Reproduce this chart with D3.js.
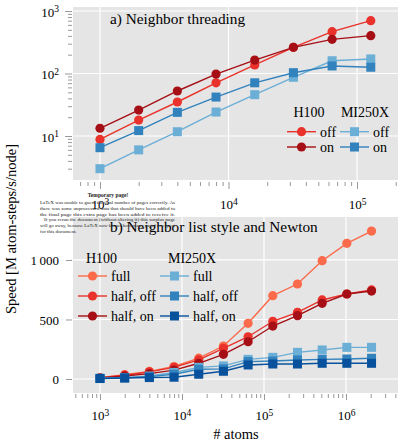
<!DOCTYPE html>
<html>
<head>
<meta charset="utf-8">
<script src="https://cdn.jsdelivr.net/npm/d3@7"></script>
<style>
  body { margin: 0; background: #fff; }
  svg { display: block; font-family: "Liberation Serif", "DejaVu Serif", serif; }
</style>
</head>
<body>
<svg id="chart" width="399" height="444"></svg>
<script>
// ---- data: a) Neighbor threading
const atomsA = [1000, 2000, 4000, 8000, 16000, 32000, 64000, 128000];
const h100OffA = [8.8, 18, 35, 71, 137, 262, 467, 700];
const h100OnA = [13.3, 26, 52.5, 98, 164, 262, 352, 403];
const mi250OffA = [3.0, 6.0, 11.7, 24.2, 45.8, 87, 160, 171];
const mi250OnA = [6.5, 12.2, 23.9, 42, 71, 103, 132, 126];

// ---- data: b) Neighbor list style and Newton
const atomsB = [1000, 2000, 4000, 8000, 16000, 32000, 64000, 128000, 256000, 512000, 1024000, 2048000];
const h100Full = [11, 36, 64, 105, 175, 277, 468, 700, 798, 994, 1140, 1243];
const h100HalfOff = [10, 32, 60, 98, 160, 258, 355, 485, 560, 664, 714, 748];
const h100HalfOn = [8, 25, 45, 75, 132, 207, 313, 445, 532, 636, 714, 739];
const miFull = [6, 12, 25, 55, 98, 110, 165, 182, 224, 244, 266, 266];
const miHalfOff = [5, 10, 20, 40, 82, 85, 146, 151, 160, 165, 168, 174];
const miHalfOn = [4, 8, 12, 15, 40, 65, 118, 126, 126, 132, 132, 132];

const yTicksB = [0, 500, 1000];
const yTickLabelsB = ['0', '500', '1\u2009000'];

const latexNote = [
    'LaTeX was unable to guess the total number of pages correctly. As',
    'there was some unprocessed data that should have been added to',
    'the final page this extra page has been added to receive it.',
    'If you rerun the document (without altering it) this surplus page',
    'will go away, because LaTeX now knows how many pages to expect',
    'for this document.'
];

const svg = d3.select('#chart');
const left = 73, right = 398;
const bg = '#e5e5e5', tickCol = '#999';

function powLabel(sel, supSize) {
    sel.each(function (d) {
        const t = d3.select(this);
        t.text(null);
        t.append('tspan').text('10');
        t.append('tspan').attr('dy', '-0.45em').attr('font-size', supSize)
            .text(Math.round(Math.log10(d)));
    });
}

function logMinor(lo, hi) {
    const out = [];
    for (let e = lo; e <= hi; e++) for (let m = 2; m <= 9; m++) out.push(m * Math.pow(10, e));
    return out;
}

function styleAxis(g) {
    g.select('.domain').remove();
    g.selectAll('.tick line').attr('stroke', tickCol);
    g.selectAll('.tick text').attr('fill', '#000').attr('font-size', 13)
        .attr('font-family', '"Liberation Serif", serif');
}

function drawSeries(g, x, y, xs, ys, color, shape) {
    const pts = xs.map((v, i) => [v, ys[i]]);
    g.append('path')
        .attr('d', d3.line().x(d => x(d[0])).y(d => y(d[1]))(pts))
        .attr('fill', 'none').attr('stroke', color).attr('stroke-width', 1.4);
    if (shape === 'circle') {
        g.selectAll(null).data(pts).enter().append('circle')
            .attr('cx', d => x(d[0])).attr('cy', d => y(d[1])).attr('r', 4.6)
            .attr('fill', color);
    } else {
        g.selectAll(null).data(pts).enter().append('rect')
            .attr('x', d => x(d[0]) - 4.5).attr('y', d => y(d[1]) - 4.5)
            .attr('width', 9).attr('height', 9).attr('fill', color);
    }
}

function legendItem(g, x0, cy, color, shape, label) {
    g.append('line').attr('x1', x0).attr('x2', x0 + 29).attr('y1', cy).attr('y2', cy)
        .attr('stroke', color).attr('stroke-width', 1.4);
    if (shape === 'circle') {
        g.append('circle').attr('cx', x0 + 14.5).attr('cy', cy).attr('r', 4.6).attr('fill', color);
    } else {
        g.append('rect').attr('x', x0 + 10).attr('y', cy - 4.5).attr('width', 9).attr('height', 9)
            .attr('fill', color);
    }
    g.append('text').attr('x', x0 + 33).attr('y', cy + 4.8).attr('font-size', 14).text(label);
}

// //////////////////////////////////////////////////////////////////////////
// Panel a
const topA = 7, botA = 180;
const xA = d3.scaleLog().domain([Math.pow(10, 2.79), Math.pow(10, 5.319)]).range([left, right]);
const yA = d3.scaleLog().domain([Math.pow(10, 0.296), Math.pow(10, 3.064)]).range([botA, topA]);

const gA = svg.append('g');
gA.append('rect').attr('x', left).attr('y', topA).attr('width', right - left).attr('height', botA - topA)
    .attr('fill', bg);
[1e3, 1e4, 1e5].forEach(v => gA.append('line').attr('x1', xA(v)).attr('x2', xA(v))
    .attr('y1', topA).attr('y2', botA).attr('stroke', '#fff').attr('stroke-width', 1.2));
[10, 100, 1000].forEach(v => gA.append('line').attr('y1', yA(v)).attr('y2', yA(v))
    .attr('x1', left).attr('x2', right).attr('stroke', '#fff').attr('stroke-width', 1.2));

// axes a
gA.append('g').attr('transform', 'translate(72,0)')
    .call(d3.axisLeft(yA).tickValues(logMinor(0, 2).filter(v => v > 2 && v < 1100)).tickSize(4).tickFormat(''))
    .call(styleAxis);
gA.append('g').attr('transform', 'translate(72,0)')
    .call(d3.axisLeft(yA).tickValues([10, 100, 1000]).tickSize(7).tickPadding(6))
    .call(styleAxis)
    .call(g => powLabel(g.selectAll('.tick text').attr('dy', '0.4em'), '9.5px'));
gA.append('g').attr('transform', `translate(0,${botA + 2})`)
    .call(d3.axisBottom(xA).tickValues(logMinor(2, 5).filter(v => xA(v) >= left && xA(v) <= right)).tickSize(4).tickFormat(''))
    .call(styleAxis);
gA.append('g').attr('transform', `translate(0,${botA + 2})`)
    .call(d3.axisBottom(xA).tickValues([1e3, 1e4, 1e5]).tickSize(7))
    .call(styleAxis)
    .call(g => powLabel(g.selectAll('.tick text').attr('y', 27).attr('dy', 0), '9.5px'));

drawSeries(gA, xA, yA, atomsA, h100OffA, '#e8322b', 'circle');
drawSeries(gA, xA, yA, atomsA, h100OnA, '#a50f15', 'circle');
drawSeries(gA, xA, yA, atomsA, mi250OffA, '#6baed6', 'square');
drawSeries(gA, xA, yA, atomsA, mi250OnA, '#3182bd', 'square');

gA.append('text').attr('x', 110).attr('y', 24).attr('font-size', 15.3).text('a) Neighbor threading');
gA.append('text').attr('x', 309).attr('y', 117).attr('font-size', 14).attr('text-anchor', 'middle').text('H100');
gA.append('text').attr('x', 365).attr('y', 117).attr('font-size', 14).attr('text-anchor', 'middle').text('MI250X');
legendItem(gA, 287, 131.7, '#e8322b', 'circle', 'off');
legendItem(gA, 287, 147, '#a50f15', 'circle', 'on');
legendItem(gA, 340, 131.7, '#6baed6', 'square', 'off');
legendItem(gA, 340, 147, '#3182bd', 'square', 'on');

// //////////////////////////////////////////////////////////////////////////
// Panel b
const topB = 217, botB = 393;
const xB = d3.scaleLog().domain([Math.pow(10, 2.671), Math.pow(10, 6.634)]).range([left, right]);
const yB = d3.scaleLinear().domain([-117.6, 1361]).range([botB, topB]);

const gB = svg.append('g');
gB.append('rect').attr('x', left).attr('y', topB).attr('width', right - left).attr('height', botB - topB)
    .attr('fill', bg);
[1e3, 1e4, 1e5, 1e6].forEach(v => gB.append('line').attr('x1', xB(v)).attr('x2', xB(v))
    .attr('y1', topB).attr('y2', botB).attr('stroke', '#fff').attr('stroke-width', 1.2));
yTicksB.forEach(v => gB.append('line').attr('y1', yB(v)).attr('y2', yB(v))
    .attr('x1', left).attr('x2', right).attr('stroke', '#fff').attr('stroke-width', 1.2));

gB.append('g').attr('transform', 'translate(72,0)')
    .call(d3.axisLeft(yB).tickValues(yTicksB).tickSize(6).tickPadding(7)
        .tickFormat((d, i) => yTickLabelsB[i]))
    .call(styleAxis)
    .call(g => g.selectAll('.tick text').attr('dy', '0.35em'));
gB.append('g').attr('transform', `translate(0,${botB + 1})`)
    .call(d3.axisBottom(xB).tickValues(logMinor(2, 6).filter(v => xB(v) >= left && xB(v) <= right)).tickSize(4).tickFormat(''))
    .call(styleAxis);
gB.append('g').attr('transform', `translate(0,${botB + 1})`)
    .call(d3.axisBottom(xB).tickValues([1e3, 1e4, 1e5, 1e6]).tickSize(6))
    .call(styleAxis)
    .call(g => powLabel(g.selectAll('.tick text').attr('y', 26).attr('dy', 0), '9.5px'));

drawSeries(gB, xB, yB, atomsB, h100Full, '#fb6a4a', 'circle');
drawSeries(gB, xB, yB, atomsB, h100HalfOff, '#e8322b', 'circle');
drawSeries(gB, xB, yB, atomsB, h100HalfOn, '#a50f15', 'circle');
drawSeries(gB, xB, yB, atomsB, miFull, '#6baed6', 'square');
drawSeries(gB, xB, yB, atomsB, miHalfOff, '#3182bd', 'square');
drawSeries(gB, xB, yB, atomsB, miHalfOn, '#08519c', 'square');

gB.append('text').attr('x', 110).attr('y', 232).attr('font-size', 15.3).text('b) Neighbor list style and Newton');
gB.append('text').attr('x', 86).attr('y', 263).attr('font-size', 14).text('H100');
gB.append('text').attr('x', 168).attr('y', 263).attr('font-size', 14).text('MI250X');
legendItem(gB, 78, 276, '#fb6a4a', 'circle', 'full');
legendItem(gB, 78, 296, '#e8322b', 'circle', 'half, off');
legendItem(gB, 78, 316, '#a50f15', 'circle', 'half, on');
legendItem(gB, 160, 276, '#6baed6', 'square', 'full');
legendItem(gB, 160, 296, '#3182bd', 'square', 'half, off');
legendItem(gB, 160, 316, '#08519c', 'square', 'half, on');

// axis titles
svg.append('text').attr('transform', 'translate(16,229) rotate(-90)').attr('text-anchor', 'middle')
    .attr('font-size', 14.5).text('Speed [M atom-steps/s/node]');
svg.append('text').attr('x', 236).attr('y', 439).attr('text-anchor', 'middle')
    .attr('font-size', 14.5).text('# atoms');

// stray LaTeX "Temporary page!" note printed over the figure
const note = svg.append('g').attr('fill', '#222');
note.append('text').attr('x', 108).attr('y', 196.5).attr('text-anchor', 'middle')
    .attr('font-size', 5.5).attr('font-weight', 'bold').text('Temporary page!');
latexNote.forEach((s, i) => {
    const t = note.append('text').attr('x', i === 3 ? 44 : 40).attr('y', 204 + i * 5.8)
        .attr('font-size', 5);
    t.text(s);
    if (i < 5) t.attr('textLength', i === 3 ? 131 : 135).attr('lengthAdjust', 'spacingAndGlyphs');
});
</script>
</body>
</html>
